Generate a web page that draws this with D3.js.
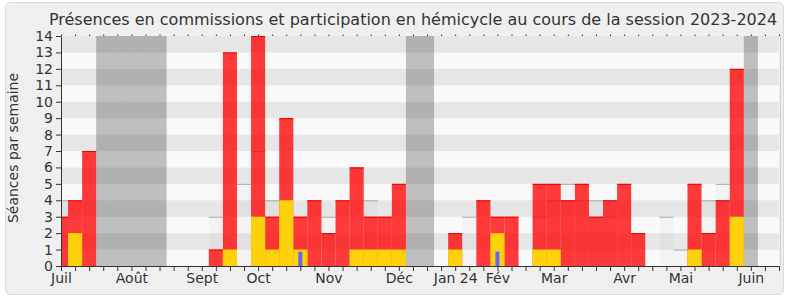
<!DOCTYPE html>
<html>
<head>
<meta charset="utf-8">
<script src="https://cdn.jsdelivr.net/npm/d3@7"></script>
<style>
  body { margin: 0; background: #fff; font-family: "DejaVu Sans", sans-serif; }
  .axis text { font-size: 14px; fill: #333; font-family: "DejaVu Sans", sans-serif; }
  .axis path, .axis line { stroke: #333; }
</style>
</head>
<body>
<div id="chart"></div>
<script>
// one value per week, from the first week of July 2023 (index 0) to week 51
const presences = [3, 4, 7, 0, 0, 0, 0, 0, 0, 0, 0, 1, 13, 0, 14, 3, 9, 3, 4, 2, 4, 6, 3, 3, 5, 0,
  0, 0, 2, 0, 4, 3, 3, 0, 5, 5, 4, 5, 3, 4, 5, 2, 0, 0, 0, 5, 2, 4, 12, 0, 0, 0];
const hemicycle = [0, 2, 0, 0, 0, 0, 0, 0, 0, 0, 0, 0, 1, 0, 3, 1, 4, 1, 0, 0, 0, 1, 1, 1, 1, 0,
  0, 0, 1, 0, 0, 2, 0, 0, 1, 1, 0, 0, 0, 0, 0, 0, 0, 0, 0, 1, 0, 0, 3, 0, 0, 0];
const questions = [0, 0, 0, 0, 0, 0, 0, 0, 0, 0, 0, 0, 0, 0, 0, 0, 0, 1, 0, 0, 0, 0, 0, 0, 0, 0,
  0, 0, 0, 0, 0, 1, 0, 0, 0, 0, 0, 0, 0, 0, 0, 0, 0, 0, 0, 0, 0, 0, 0, 0, 0, 0];
// median presence of all deputies (only where it can be seen)
const medians = [4, null, null, 0, 0, 0, 0, 0, 0, 0, 0, 3, null, 5, 7, 4, null, null, null, 3, null, null, 4, null, null, 0,
  0, 0, null, 3, null, null, null, 0, 3, 4, 5, 4, 4, 3, null, null, 0, 3, 1, null, 4, 5, null, 0, 0, 0];
const holidays = [3, 4, 5, 6, 7, 25, 26, 49];
const monthWeeks = [0, 5, 10, 14, 19, 24, 28, 31, 35, 40, 44, 49];
const monthLabels = ['Juil', 'Août', 'Sept', 'Oct', 'Nov', 'Déc', 'Jan 24', 'Fév', 'Mar', 'Avr', 'Mai', 'Juin'];
const yTicks = d3.range(0, 15);

const width = 790, height = 300;
const nWeeks = presences.length;

const svg = d3.select('#chart').append('svg')
    .attr('width', width)
    .attr('height', height);

// panel
svg.append('rect')
    .attr('x', 5.5).attr('y', 2.5)
    .attr('width', 778).attr('height', 292)
    .attr('rx', 5)
    .attr('fill', '#efefef')
    .attr('stroke', '#dadada');

const x = d3.scaleLinear().domain([0, nWeeks - 1]).range([61, 779]);
const y = d3.scaleLinear().domain([0, 14]).range([266, 36]);
const weekW = x(1) - x(0);

svg.append('defs').append('clipPath')
    .attr('id', 'plot-clip')
  .append('rect')
    .attr('x', x(0)).attr('y', y(14))
    .attr('width', x(nWeeks - 1) - x(0))
    .attr('height', y(0) - y(14));

const plot = svg.append('g').attr('clip-path', 'url(#plot-clip)');

// alternating bands
plot.selectAll('.band')
  .data(d3.range(0, 14))
  .join('rect')
    .attr('class', 'band')
    .attr('x', x(0))
    .attr('width', x(nWeeks - 1) - x(0))
    .attr('y', d => y(d + 1))
    .attr('height', d => y(d) - y(d + 1))
    .attr('fill', d => d % 2 ? '#e6e6e6' : '#f9f9f9');

// holiday weeks
plot.selectAll('.holiday')
  .data(holidays)
  .join('rect')
    .attr('class', 'holiday')
    .attr('x', d => x(d - 0.5))
    .attr('width', weekW)
    .attr('y', y(14))
    .attr('height', y(0) - y(14))
    .attr('fill', 'rgba(0,0,0,0.235)');

const weeks = d3.range(nWeeks).map(i => ({
  i: i,
  presence: presences[i],
  hemicycle: hemicycle[i],
  question: questions[i],
  median: medians[i]
}));

// medians
const med = weeks.filter(d => d.median > 0);
plot.selectAll('.median')
  .data(med)
  .join('rect')
    .attr('class', 'median')
    .attr('x', d => x(d.i - 0.5))
    .attr('width', weekW)
    .attr('y', d => y(d.median))
    .attr('height', d => y(0) - y(d.median))
    .attr('fill', 'rgba(0,0,0,0.025)');
plot.selectAll('.median-line')
  .data(med)
  .join('line')
    .attr('class', 'median-line')
    .attr('x1', d => x(d.i - 0.5))
    .attr('x2', d => x(d.i + 0.5))
    .attr('y1', d => y(d.median) + 0.5)
    .attr('y2', d => y(d.median) + 0.5)
    .attr('stroke', '#a8a8a8');

// presences (red)
const pres = weeks.filter(d => d.presence > 0);
plot.selectAll('.presence')
  .data(pres)
  .join('rect')
    .attr('class', 'presence')
    .attr('x', d => x(d.i - 0.5))
    .attr('width', weekW)
    .attr('y', d => y(d.presence))
    .attr('height', d => y(0) - y(d.presence))
    .attr('fill', 'rgba(255,0,0,0.77)');
plot.selectAll('.presence-top')
  .data(pres)
  .join('line')
    .attr('class', 'presence-top')
    .attr('x1', d => x(d.i - 0.5))
    .attr('x2', d => x(d.i + 0.5))
    .attr('y1', d => y(d.presence) + 0.5)
    .attr('y2', d => y(d.presence) + 0.5)
    .attr('stroke', '#e80000');

// hemicycle (yellow)
plot.selectAll('.hemicycle')
  .data(weeks.filter(d => d.hemicycle > 0))
  .join('rect')
    .attr('class', 'hemicycle')
    .attr('x', d => x(d.i - 0.5))
    .attr('width', weekW)
    .attr('y', d => y(d.hemicycle))
    .attr('height', d => y(0) - y(d.hemicycle))
    .attr('fill', '#fed20b');

// oral questions (thin blue)
plot.selectAll('.question')
  .data(weeks.filter(d => d.question > 0))
  .join('rect')
    .attr('class', 'question')
    .attr('x', d => x(d.i) - 2)
    .attr('width', 4)
    .attr('y', d => y(d.question * 0.87))
    .attr('height', d => y(0) - y(d.question * 0.87))
    .attr('fill', '#6464ff');

// right border
svg.append('line')
    .attr('x1', 780.5).attr('x2', 780.5)
    .attr('y1', y(14)).attr('y2', y(0))
    .attr('stroke', '#cfcfcf');

// axes
const labelOf = new Map(monthWeeks.map((w, i) => [w, monthLabels[i]]));

const xAxisG = svg.append('g')
    .attr('class', 'axis x-axis')
    .attr('transform', `translate(0,${y(0)})`)
    .call(d3.axisBottom(x)
      .tickValues(d3.range(nWeeks))
      .tickSize(5)
      .tickSizeOuter(0)
      .tickFormat(d => labelOf.get(d) || ''));
xAxisG.selectAll('text').attr('y', 17).attr('dy', 0);

svg.append('g')
    .attr('class', 'axis top-axis')
    .attr('transform', `translate(0,${y(14)})`)
    .call(d3.axisTop(x).tickValues(d3.range(nWeeks)).tickSize(1.5).tickFormat(''))
    .call(g => g.select('.domain').remove())
    .call(g => g.selectAll('line').attr('stroke', '#000'));

const yAxisG = svg.append('g')
    .attr('class', 'axis y-axis')
    .attr('transform', `translate(${x(0)},0)`)
    .call(d3.axisLeft(y).tickValues(yTicks).tickSize(5).tickPadding(3).tickSizeOuter(0).tickFormat(d3.format('d')));
yAxisG.selectAll('.tick line').attr('stroke', d => d % 2 ? '#333' : '#999');

// titles
svg.append('text')
    .attr('x', 413)
    .attr('y', 25)
    .attr('text-anchor', 'middle')
    .attr('font-size', 16)
    .attr('fill', '#333')
    .text('Présences en commissions et participation en hémicycle au cours de la session 2023-2024');

svg.append('text')
    .attr('transform', 'translate(18,148) rotate(-90)')
    .attr('text-anchor', 'middle')
    .attr('font-size', 14)
    .attr('fill', '#333')
    .text('Séances par semaine');
</script>
</body>
</html>
